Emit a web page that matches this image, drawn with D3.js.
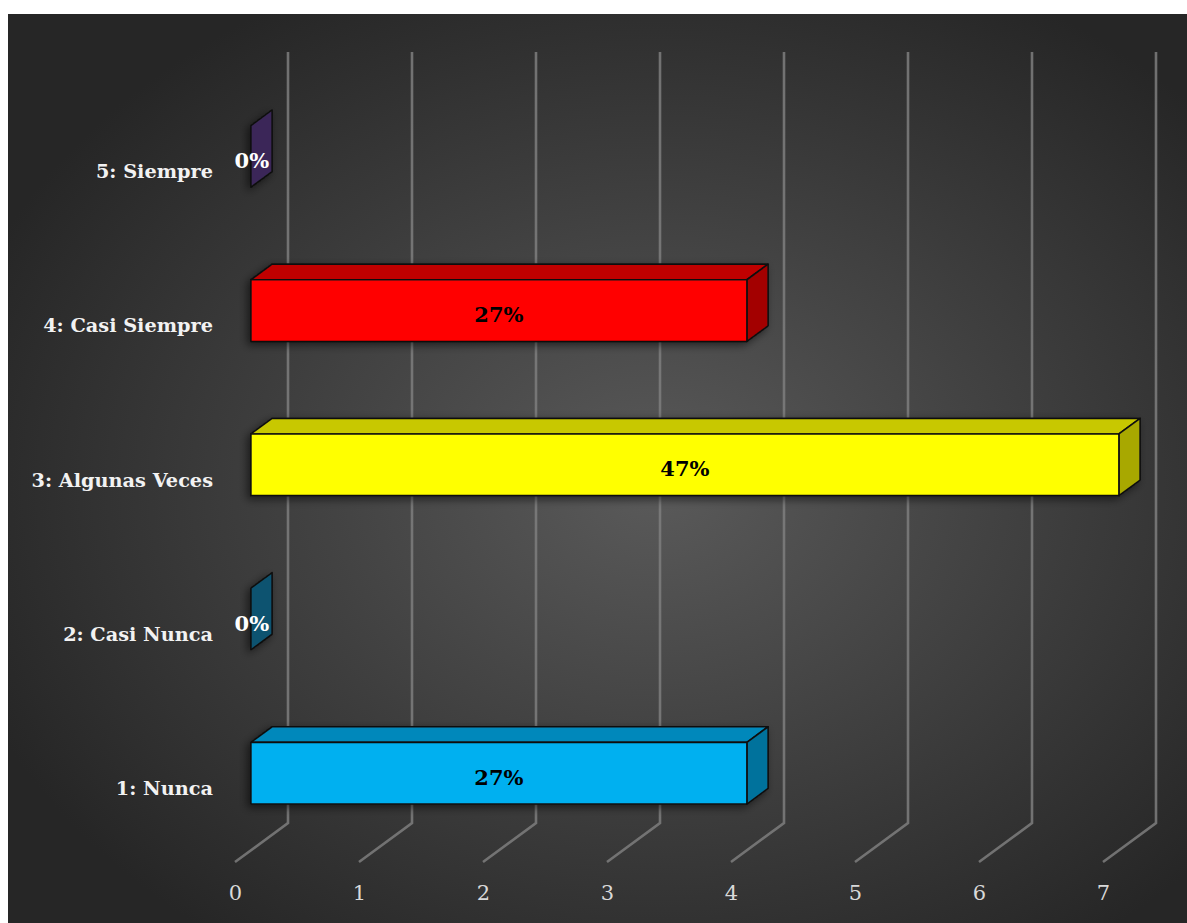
<!DOCTYPE html>
<html><head><meta charset="utf-8">
<script src="https://cdn.jsdelivr.net/npm/d3@7"></script>
<style>html,body{margin:0;padding:0;background:#fff;}</style>
</head><body>
<svg id="chart" width="1187" height="923"></svg>
<script>
const categories = ["1: Nunca", "2: Casi Nunca", "3: Algunas Veces", "4: Casi Siempre", "5: Siempre"];
const values = [4, 0, 7, 4, 0];
const labels = ["27%", "0%", "47%", "27%", "0%"];
const ticks = [0, 1, 2, 3, 4, 5, 6, 7];
const frontColors = ["#00B0F0", "#0E5A78", "#FFFF00", "#FF0000", "#3E2B5E"];
const topColors   = ["#0088BB", "#0B4A63", "#C8C800", "#C00000", "#33244E"];
const sideColors  = ["#00729C", "#0D5370", "#A8A800", "#A30000", "#3A2858"];

const svg = d3.select("#chart");
const defs = svg.append("defs");
const rg = defs.append("radialGradient").attr("id","bg")
  .attr("cx","55%").attr("cy","52%").attr("r","62%");
rg.append("stop").attr("offset","0%").attr("stop-color","#5a5a5a");
rg.append("stop").attr("offset","100%").attr("stop-color","#262626");
const f = defs.append("filter").attr("id","sh").attr("x","-50%").attr("y","-50%").attr("width","200%").attr("height","200%");
f.append("feDropShadow").attr("dx",-3).attr("dy",3).attr("stdDeviation",4)
  .attr("flood-color","#000").attr("flood-opacity",0.55);

svg.append("rect").attr("x",8).attr("y",14).attr("width",1179).attr("height",909).attr("fill","url(#bg)");

// 3D geometry
const DX = 53, DY = 39;           // full depth vector
const frontBottom = 862, frontTop = 91;
const x = d3.scaleLinear().domain([0, 7]).range([235, 235 + 7 * 124]);
const y = d3.scaleBand().domain(categories.slice().reverse())
  .range([frontTop, frontBottom]).paddingInner(0.6).paddingOuter(0.3);

// gridlines (floor + back wall)
const grid = svg.append("g");
ticks.forEach(t => {
  const x0 = x(t);
  grid.append("polyline")
    .attr("points", `${x0},${frontBottom} ${x0+DX},${frontBottom-DY} ${x0+DX},${frontTop-DY}`)
    .attr("fill","none").attr("stroke","#7e7e7e").attr("stroke-width",2.6).attr("stroke-opacity",0.85);
});

// axis tick labels
const xAxis = svg.append("g").attr("transform",`translate(0,${frontBottom+31})`)
  .call(d3.axisBottom(x).tickValues(ticks).tickSize(0).tickFormat(d3.format("d")));
xAxis.select(".domain").remove();
xAxis.selectAll("text").attr("fill","#d9d9d9").attr("font-family","'DejaVu Serif', serif")
  .attr("font-size",21).attr("dy","0.35em").attr("y",0);

// category labels
const yAxis = svg.append("g").attr("transform",`translate(213,4)`)
  .call(d3.axisLeft(y).tickSize(0).tickPadding(0));
yAxis.select(".domain").remove();
yAxis.selectAll("text").attr("fill","#f2f2f2").attr("font-family","'DejaVu Serif', serif")
  .attr("font-size",19.3).attr("font-weight","bold");

// bars
const f0 = 0.3, f1 = 0.7;
const bdx = (f1 - f0) * DX, bdy = (f1 - f0) * DY;
const bars = svg.append("g");
const data = categories.map((c, i) => ({c, v: values[i], l: labels[i], i}));
data.forEach(d => {
  const g = bars.append("g").attr("filter","url(#sh)");
  const x0 = x(0) + f0 * DX, x1 = x(d.v) + f0 * DX;
  const yt = y(d.c) - f0 * DY, h = y.bandwidth();
  const st = {stroke:"#111", "stroke-width":1.6, "stroke-linejoin":"round"};
  const apply = (sel) => { Object.entries(st).forEach(([k,v]) => sel.attr(k,v)); return sel; };
  if (d.v > 0) {
    apply(g.append("polygon")
      .attr("points", `${x0},${yt} ${x1},${yt} ${x1+bdx},${yt-bdy} ${x0+bdx},${yt-bdy}`)
      .attr("fill", topColors[d.i]));
  }
  apply(g.append("polygon")
    .attr("points", `${x1},${yt} ${x1+bdx},${yt-bdy} ${x1+bdx},${yt+h-bdy} ${x1},${yt+h}`)
    .attr("fill", sideColors[d.i]));
  if (d.v > 0) {
    apply(g.append("rect").attr("x",x0).attr("y",yt).attr("width",x1-x0).attr("height",h)
      .attr("fill", frontColors[d.i]));
  }
  svg.append("text")
    .attr("x", d.v > 0 ? (x0 + x1) / 2 : x0 + 1)
    .attr("y", yt + h / 2 + 4)
    .attr("text-anchor","middle").attr("dominant-baseline","central")
    .attr("font-family","'DejaVu Serif', serif").attr("font-weight","bold").attr("font-size",21)
    .attr("fill", d.v > 0 ? "#000" : "#fff")
    .text(d.l);
});
</script>
</body></html>
